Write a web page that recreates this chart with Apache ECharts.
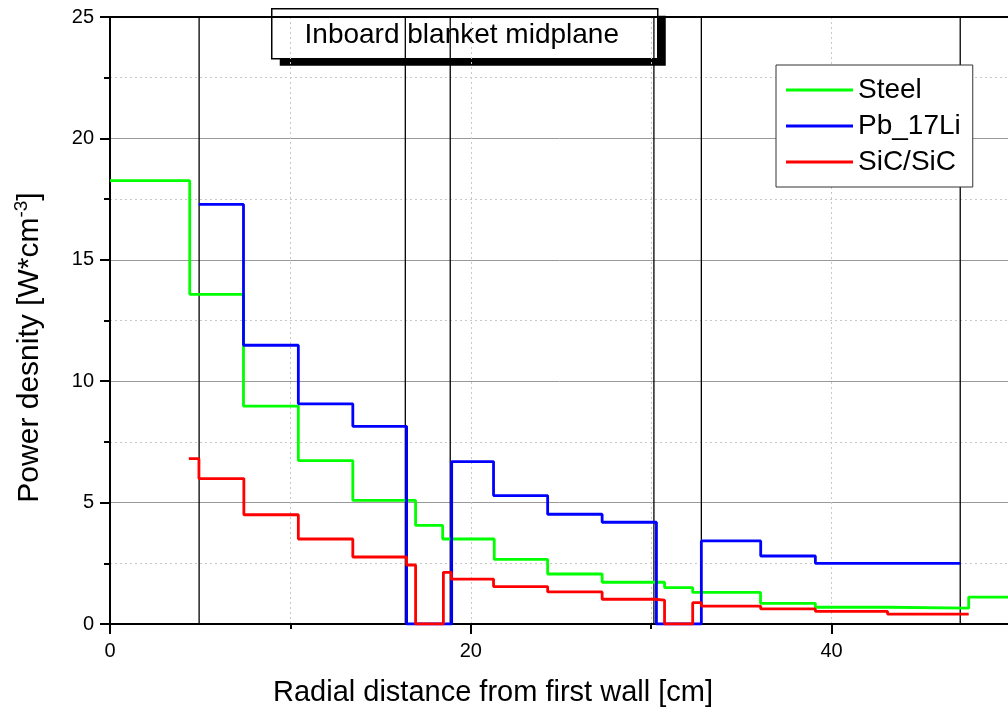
<!DOCTYPE html>
<html>
<head>
<meta charset="utf-8">
<script src="https://cdn.jsdelivr.net/npm/echarts@6/dist/echarts.min.js"></script>
<style>html,body{margin:0;padding:0;background:#fff}#c{width:1008px;height:713px}</style>
</head>
<body>
<div id="c"></div>
<script>
// Step edges (cm) and values (W/cm^3)
const steelEdges  = [0, 4.42, 7.4, 10.44, 13.46, 16.94, 18.44, 21.3, 24.26, 27.28, 30.74, 32.3, 36.06, 39.1, 43.1, 47.6, 50];
const steelValues = [18.26, 13.58, 8.97, 6.73, 5.09, 4.06, 3.5, 2.66, 2.06, 1.72, 1.5, 1.3, 0.85, 0.69, 0.65, 1.11];

const pbEdges  = [4.92, 7.4, 10.44, 13.46, 16.44, 18.94, 21.26, 24.26, 27.28, 30.29, 32.78, 36.07, 39.1, 47.13];
const pbValues = [17.28, 11.48, 9.07, 8.14, 0, 6.69, 5.29, 4.52, 4.19, 0, 3.42, 2.8, 2.5];

const sicEdges  = [4.37, 4.93, 7.42, 10.44, 13.46, 16.44, 16.94, 18.48, 18.92, 21.26, 24.26, 27.28, 30.18, 30.74, 32.3, 32.78, 36.07, 39.1, 43.1, 47.6];
const sicValues = [6.81, 5.99, 4.5, 3.5, 2.76, 2.43, 0, 2.13, 1.85, 1.54, 1.32, 1.02, 0.98, 0, 0.88, 0.74, 0.62, 0.52, 0.41];

const boundaries = [4.94, 16.37, 18.86, 30.15, 32.78, 47.13];

const seriesNames = ['Steel', 'Pb_17Li', 'SiC/SiC'];
const seriesColors = ['#00ff00', '#0000ff', '#ff0000'];

const xMin = 0, xMax = 50, xInterval = 20;
const yMin = 0, yMax = 25, yInterval = 5;

function stepData(edges, values) {
  const d = values.map((v, i) => [edges[i], v]);
  d.push([edges[edges.length - 1], values[values.length - 1]]);
  return d;
}

const FONT = '"Liberation Sans", Arial, sans-serif';
const chart = echarts.init(document.getElementById('c'), null, {renderer: 'canvas'});

const boundarySeries = boundaries.map(b => ({
  type: 'line', name: 'b' + b, data: [[b, yMin], [b, yMax]],
  symbol: 'none', silent: true, z: 1,
  lineStyle: {color: '#000', width: 1.3}
}));

const dataSets = [[steelEdges, steelValues], [pbEdges, pbValues], [sicEdges, sicValues]];
const mainSeries = dataSets.map((ds, i) => ({
  type: 'line', name: seriesNames[i], step: 'end',
  data: stepData(ds[0], ds[1]),
  symbol: 'none', showSymbol: false, z: 3 + i,
  color: seriesColors[i],
  lineStyle: {color: seriesColors[i], width: 2.8}
}));

chart.setOption({
  animation: false,
  backgroundColor: '#fff',
  grid: {left: 110, top: 17, width: 902, bottom: 89, outerBoundsMode: 'none', containLabel: false},
  legend: {
    data: seriesNames, orient: 'vertical', left: 776, top: 65,
    padding: [11, 12, 11, 10], itemGap: 8, itemWidth: 67, itemHeight: 3,
    icon: 'rect',
    backgroundColor: '#fff', borderColor: '#333', borderWidth: 1,
    textStyle: {fontFamily: FONT, fontSize: 28, color: '#000', lineHeight: 28},
    z: 20
  },
  xAxis: [{
    type: 'value', min: xMin, max: xMax, interval: xInterval,
    name: 'Radial distance from first wall [cm]', nameLocation: 'middle', nameGap: 54,
    nameTextStyle: {fontFamily: FONT, fontSize: 29, color: '#000', padding: [0, 136, 0, 0]},
    axisLine: {onZero: false, lineStyle: {color: '#000', width: 2}},
    axisTick: {show: true, length: 10, lineStyle: {color: '#000', width: 2}},
    minorTick: {show: true, splitNumber: 2, length: 5, lineStyle: {color: '#000', width: 2}},
    axisLabel: {fontFamily: FONT, fontSize: 20, color: '#000', margin: 17,
      formatter: v => (v >= xMax ? '' : String(v))},
    splitLine: {show: true, lineStyle: {color: '#c8c8c8', type: [2, 3], width: 1}},
    minorSplitLine: {show: true, lineStyle: {color: '#c8c8c8', type: [2, 3], width: 1}}
  }, {
    type: 'value', min: xMin, max: xMax, interval: xInterval, position: 'top',
    axisLine: {show: true, onZero: false, lineStyle: {color: '#000', width: 2}},
    axisTick: {show: false}, axisLabel: {show: false}, splitLine: {show: false}
  }],
  yAxis: {
    type: 'value', min: yMin, max: yMax, interval: yInterval,
    name: 'Power desnity [W*cm{sup|-3}]', nameLocation: 'middle', nameGap: 62,
    nameTextStyle: {fontFamily: FONT, fontSize: 30, color: '#000', padding: [0, 54, 0, 0], lineHeight: 36,
      rich: {sup: {fontFamily: FONT, fontSize: 19, color: '#000', verticalAlign: 'top', lineHeight: 36, padding: [0, 0, 14, 0]}}},
    axisLine: {lineStyle: {color: '#000', width: 2}},
    axisTick: {show: true, length: 10, lineStyle: {color: '#000', width: 2}},
    minorTick: {show: true, splitNumber: 2, length: 6, lineStyle: {color: '#000', width: 2}},
    axisLabel: {fontFamily: FONT, fontSize: 20, color: '#000', margin: 16},
    splitLine: {show: true, lineStyle: {color: '#999', width: 1}},
    minorSplitLine: {show: true, lineStyle: {color: '#c8c8c8', type: [2, 3], width: 1}}
  },
  graphic: [{
    type: 'group', left: 271, top: 8, z: 100,
    children: [
      {type: 'rect', shape: {x: 8, y: 7, width: 386, height: 50}, style: {fill: '#000'}},
      {type: 'rect', shape: {x: 0, y: 0, width: 386, height: 50}, style: {fill: '#fff', stroke: '#000', lineWidth: 1.5}},
      {type: 'text', x: 190, y: 27, style: {text: 'Inboard blanket midplane', font: '28px ' + FONT, fill: '#000', align: 'center', verticalAlign: 'middle'}}
    ]
  }],
  series: boundarySeries.concat(mainSeries)
});
</script>
</body>
</html>
